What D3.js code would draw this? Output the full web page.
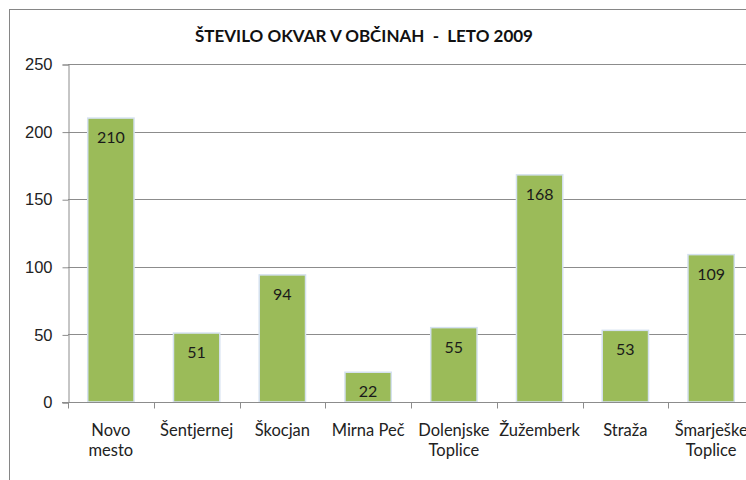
<!DOCTYPE html>
<html>
<head>
<meta charset="utf-8">
<script src="https://cdn.jsdelivr.net/npm/d3@7"></script>
<style>
  body { margin: 0; background: #fff; }
  svg { display: block; font-family: Lato, "Open Sans", sans-serif; }
</style>
</head>
<body>
<div id="chart"></div>
<script>
// Chart data
const municipalities = [["Novo", "mesto"], ["Šentjernej"], ["Škocjan"], ["Mirna Peč"],
    ["Dolenjske", "Toplice"], ["Žužemberk"], ["Straža"], ["Šmarješke", "Toplice"]];
const failures = [210, 51, 94, 22, 55, 168, 53, 109];
const yTicks = [0, 50, 100, 150, 200, 250];
const title = "ŠTEVILO OKVAR V OBČINAH  -  LETO 2009";

const width = 746;
const height = 480;
const margin = {top: 64, right: -8, bottom: 78, left: 68};

const svg = d3.select("#chart")
    .append("svg")
    .attr("width", width)
    .attr("height", height);

// outer chart frame (partly off screen, like the reference crop)
svg.append("rect")
    .attr("x", 9.5)
    .attr("y", 9.5)
    .attr("width", width + 20)
    .attr("height", height + 20)
    .attr("fill", "none")
    .attr("stroke", "#868686");

const x = d3.scaleBand()
    .domain(d3.range(municipalities.length))
    .range([margin.left, width - margin.right])
    .paddingInner(0.46)
    .paddingOuter(0.23);

const y = d3.scaleLinear()
    .domain([0, 250])
    .range([height - margin.bottom, margin.top]);

// gridlines
svg.append("g")
    .selectAll("line")
    .data(yTicks.filter(d => d > 0))
    .enter().append("line")
    .attr("x1", margin.left)
    .attr("x2", width)
    .attr("y1", d => Math.round(y(d)) + 0.5)
    .attr("y2", d => Math.round(y(d)) + 0.5)
    .attr("stroke", "#8c8c8c");

// y axis
const yAxis = svg.append("g")
    .attr("transform", `translate(${margin.left + 0.5},0.5)`)
    .call(d3.axisLeft(y).tickValues(yTicks).tickSize(6).tickPadding(10));
yAxis.select(".domain").attr("stroke", "#8c8c8c");
yAxis.selectAll(".tick line").attr("stroke", "#8c8c8c");
yAxis.selectAll("text").attr("font-size", 16.5).attr("fill", "#222");

// bars
svg.append("g")
    .selectAll("rect")
    .data(failures)
    .enter().append("rect")
    .attr("x", (d, i) => x(i))
    .attr("y", d => y(d))
    .attr("width", x.bandwidth())
    .attr("height", d => y(0) - y(d))
    .attr("fill", "#9bbb59")
    .attr("stroke", "#d5e1f0")
    .attr("stroke-width", 1.5);

// value labels
svg.append("g")
    .selectAll("text")
    .data(failures)
    .enter().append("text")
    .attr("x", (d, i) => x(i) + x.bandwidth() / 2)
    .attr("y", d => y(d) + 25)
    .attr("text-anchor", "middle")
    .attr("font-size", 16)
    .attr("fill", "#1a1a1a")
    .text(d => d);

// x axis line and category ticks
const baseY = Math.round(y(0)) + 0.5;
svg.append("line")
    .attr("x1", margin.left - 6)
    .attr("x2", width)
    .attr("y1", baseY)
    .attr("y2", baseY)
    .attr("stroke", "#8c8c8c");

const step = x.step();
svg.append("g")
    .selectAll("line")
    .data(d3.range(municipalities.length))
    .enter().append("line")
    .attr("x1", i => Math.round(margin.left + i * step) + 0.5)
    .attr("x2", i => Math.round(margin.left + i * step) + 0.5)
    .attr("y1", baseY)
    .attr("y2", baseY + 6)
    .attr("stroke", "#8c8c8c");

// category labels
const labels = svg.append("g")
    .selectAll("text")
    .data(municipalities)
    .enter().append("text")
    .attr("x", (d, i) => x(i) + x.bandwidth() / 2)
    .attr("y", baseY + 33)
    .attr("text-anchor", "middle")
    .attr("font-size", 16.5)
    .attr("fill", "#222");

labels.selectAll("tspan")
    .data(d => d)
    .enter().append("tspan")
    .attr("x", function() { return this.parentNode.getAttribute("x"); })
    .attr("dy", (d, i) => i === 0 ? 0 : 20)
    .text(d => d);

// title
svg.append("text")
    .attr("x", 364)
    .attr("y", 42)
    .attr("text-anchor", "middle")
    .attr("font-size", 17)
    .attr("font-weight", "bold")
    .attr("fill", "#111")
    .style("white-space", "pre")
    .text(title);
</script>
</body>
</html>
